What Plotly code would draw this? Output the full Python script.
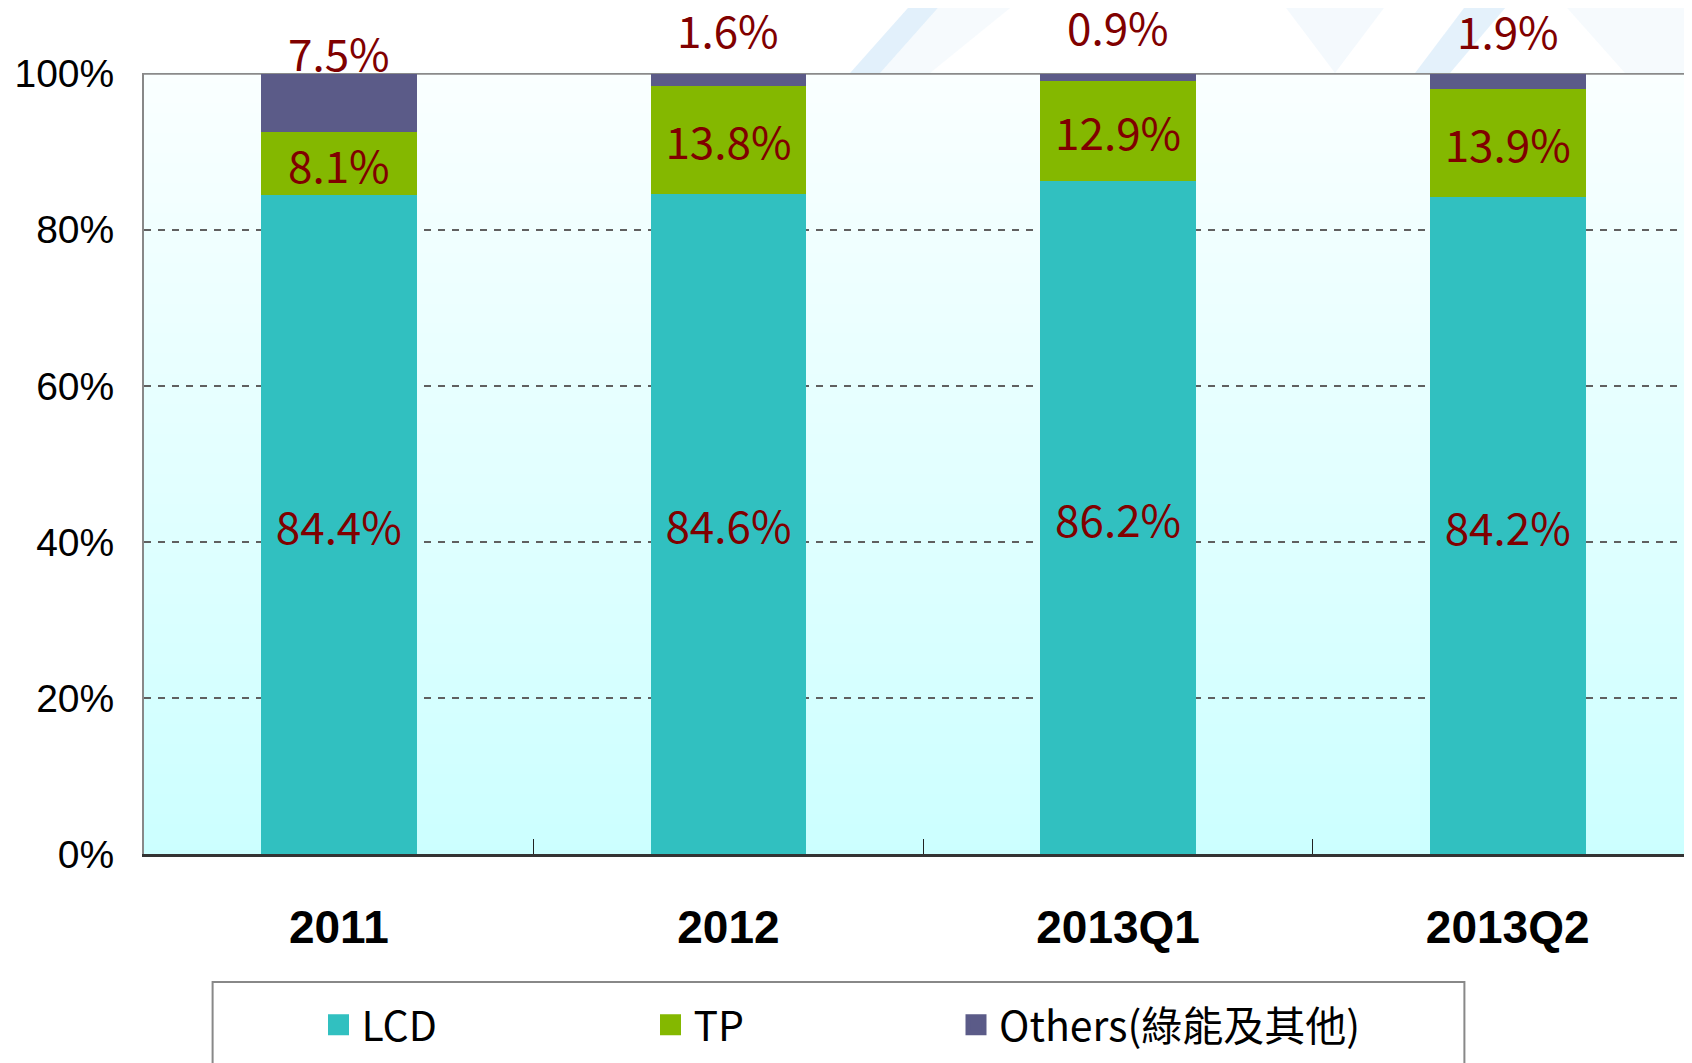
import plotly.graph_objects as go

# ---------------- data ----------------
categories = ["2011", "2012", "2013Q1", "2013Q2"]
lcd = [84.4, 84.6, 86.2, 84.2]
tp = [8.1, 13.8, 12.9, 13.9]
others = [7.5, 1.6, 0.9, 1.9]
series_names = ["LCD", "TP", "Others(綠能及其他)"]
y_tick_vals = [0, 20, 40, 60, 80, 100]
y_tick_text = ["0%", "20%", "40%", "60%", "80%", "100%"]

# ---------------- layout geometry ----------------
OFF = 8  # default page body margin
W, H = 1692 - OFF, 1063 - OFF
ML, MR, MT, MB = 144 - OFF, 0, 73 - OFF, 209
PW = W - ML - MR
PH = H - MT - MB

NARROW = "Liberation Sans Narrow, Arial Narrow, Noto Sans CJK TC, sans-serif"
ARIAL = "Liberation Sans, Arial, sans-serif"
LABEL_COLOR = "#800000"
colors = ["#31C0C0", "#84B800", "#5B5B88"]


def pp(px, py):
    """reference-page pixel -> paper coordinates"""
    px -= OFF
    py -= OFF
    return (px - ML) / PW, (H - MB - py) / PH


fig = go.Figure()

series = [lcd, tp, others]
for i, (name, vals, col) in enumerate(zip(series_names, series, colors)):
    kw = {}
    if i < 2:
        kw = dict(
            text=[f"{v:.1f}%" for v in vals],
            textposition="inside",
            insidetextanchor="middle",
            textangle=0,
            constraintext="none",
            textfont=dict(family=NARROW, size=44, color=LABEL_COLOR),
        )
    fig.add_trace(go.Bar(
        x=categories, y=vals, name=name, marker=dict(color=col, line=dict(width=0)),
        width=0.4, showlegend=False, legendgroup=name, hoverinfo="skip", **kw))

# legend entries (larger square swatches)
legend_ids = ["legend", "legend2", "legend3"]
for name, col, lid in zip(series_names, colors, legend_ids):
    fig.add_trace(go.Scatter(
        x=[None], y=[None], mode="markers", name=name, legendgroup=name,
        marker=dict(symbol="square", size=16, color=col, line=dict(color=col, width=5)),
        legend=lid, showlegend=True))

# labels for the top segment (above the bars)
annotations = []
for idx, (a, b, o) in enumerate(zip(lcd, tp, others)):
    annotations.append(dict(
        x=idx, xref="x", yref="y", y=a + b + o / 2, yshift=51, text=f"{o:.1f}%", showarrow=False,
        font=dict(family=NARROW, size=44, color=LABEL_COLOR), xanchor="center", yanchor="middle"))

shapes = []
# background gradient of plot area
N = 78
top_rgb = (250, 255, 255)
bot_rgb = (204, 255, 255)
for k in range(N):
    t = (k + 0.5) / N  # 0 bottom -> 1 top
    rgb = tuple(round(bot_rgb[j] + (top_rgb[j] - bot_rgb[j]) * t) for j in range(3))
    shapes.append(dict(type="rect", xref="paper", yref="paper", x0=0, x1=1,
                       y0=k / N, y1=(k + 1) / N + 0.002, layer="below",
                       fillcolor=f"rgb{rgb}", line=dict(width=0)))

# faint decorative pattern at top right
def poly(points, color):
    pts = [pp(x, y) for x, y in points]
    path = "M " + " L ".join(f"{x:.4f},{y:.4f}" for x, y in pts) + " Z"
    return dict(type="path", xref="paper", yref="paper", path=path, layer="below",
                fillcolor=color, line=dict(width=0))

shapes += [
    poly([(850, 73), (880, 73), (945, 0), (915, 0)], "rgba(150,200,240,0.28)"),
    poly([(880, 73), (945, 0), (1020, 0), (930, 73)], "rgba(200,225,245,0.16)"),
    poly([(1280, 0), (1390, 0), (1335, 73)], "rgba(205,228,246,0.22)"),
    poly([(1415, 73), (1450, 73), (1512, 0), (1470, 0)], "rgba(150,200,240,0.26)"),
    poly([(1560, 0), (1692, 0), (1692, 73), (1625, 73)], "rgba(210,230,246,0.2)"),
]

# top frame line under the 100% gridline
shapes.append(dict(type="line", xref="paper", yref="y", x0=0, x1=1, y0=100, y1=100,
                   line=dict(color="#8A8A8A", width=2), layer="below"))

# legend frame
lx0, ly0 = pp(212.6, 982)
lx1, ly1 = pp(1464.4, 1130)
shapes.append(dict(type="rect", xref="paper", yref="paper", x0=lx0, y0=ly0, x1=lx1, y1=ly1,
                   line=dict(color="#888888", width=2), fillcolor="rgba(0,0,0,0)", layer="above"))

legend_font = dict(family=NARROW, size=41, color="black")
sym_centers = [338.5, 670.5, 976]
leg_y = 1 - (1025 - OFF) / H
legend_layouts = {}
for lid, cx in zip(legend_ids, sym_centers):
    legend_layouts[lid] = dict(
        xref="container", yref="container", x=(cx - OFF - 23) / W, y=leg_y,
        xanchor="left", yanchor="middle", orientation="h", font=legend_font,
        itemwidth=36,
        bgcolor="rgba(0,0,0,0)", borderwidth=0, itemclick=False, itemdoubleclick=False)

fig.update_layout(
    width=W, height=H,
    margin=dict(l=ML, r=MR, t=MT, b=MB, pad=0, autoexpand=False),
    barmode="stack",
    paper_bgcolor="white",
    plot_bgcolor="rgba(0,0,0,0)",
    showlegend=True,
    annotations=annotations,
    shapes=shapes,
    hovermode=False,
    **legend_layouts,
)

fig.update_xaxes(
    type="category", range=[-0.5, 3.473], showgrid=False, zeroline=False,
    showline=True, linecolor="#333333", linewidth=2.5,
    ticks="inside", tickson="boundaries", ticklen=15, tickwidth=1, tickcolor="#222222",
    tickfont=dict(family=ARIAL, size=46, color="black", weight="bold"),
    ticklabelstandoff=31,
)
fig.update_yaxes(
    range=[0, 100.1], tickvals=y_tick_vals, ticktext=y_tick_text,
    showgrid=True, gridcolor="#606060", gridwidth=2, griddash="7px,7px",
    zeroline=False, showline=True, linecolor="#888888", linewidth=2,
    ticks="", tickfont=dict(family=ARIAL, size=39, color="black"),
    ticklabelstandoff=20,
)

fig.write_html("out.html")
